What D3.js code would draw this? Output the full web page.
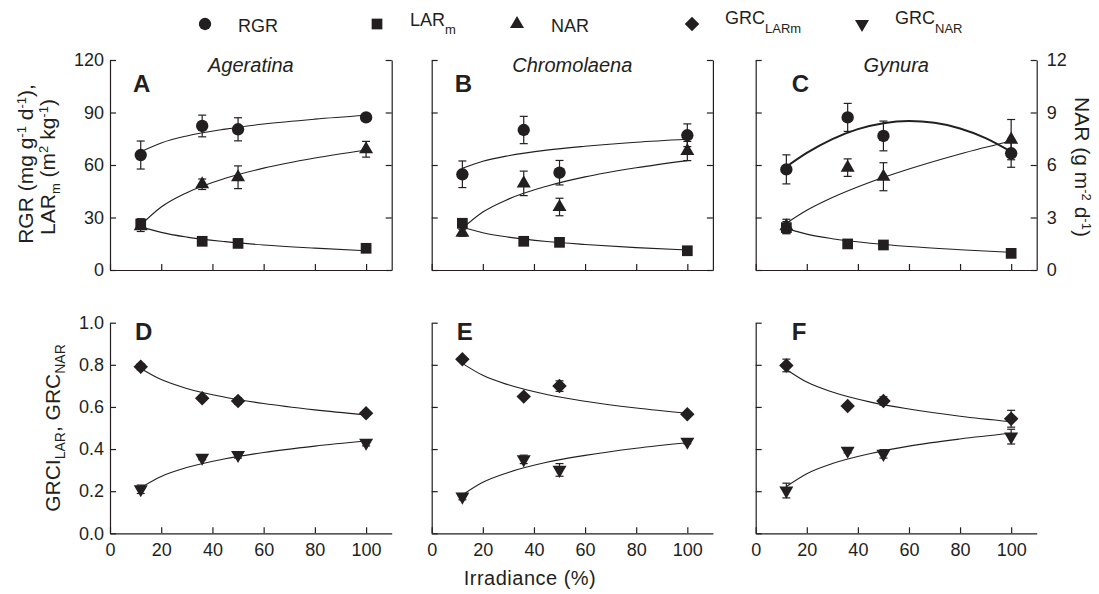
<!DOCTYPE html>
<html>
<head>
<meta charset="utf-8">
<script src="https://cdn.jsdelivr.net/npm/d3@7"></script>
<style>
body { margin: 0; background: #fff; }
text { font-family: "Liberation Sans", Arial, sans-serif; fill: #231f20; }
</style>
</head>
<body>
<svg id="fig" width="1099" height="594"></svg>
<script>
// irradiance levels (%) of the four treatments
var irr = [12, 36, 50, 100];
var xTicks = [0, 20, 40, 60, 80, 100];
var topTicks = [0, 30, 60, 90, 120];
var narTicks = [0, 3, 6, 9, 12];
var botTicks = [0, 0.2, 0.4, 0.6, 0.8, 1.0];
var species = ["Ageratina", "Chromolaena", "Gynura"];
var topLetters = ["A", "B", "C"];
var botLetters = ["D", "E", "F"];

// x positions where the fitted curves were read
var fitX = [12, 20, 30, 45, 60, 80, 100];
var fitXq = [12, 20, 30, 40, 50, 60, 70, 80, 90, 100];

// Ageratina
var rgrA = [65.7, 82.3, 80.4, 87.2], rgrAErr = [8.0, 6.2, 6.6, 2.0];
var larA = [26.3, 16.4, 15.2, 12.4], larAErr = [3.0, 1.2, 1.0, 1.0];
var narA = [2.5, 4.9, 5.3, 6.9], narAErr = [0.3, 0.3, 0.65, 0.45];
var rgrAFit = [67.6, 72.6, 76.6, 80.5, 83.4, 86.2, 88.4];
var larAFit = [24.8, 21.5, 18.8, 16.2, 14.3, 12.5, 11.0];
var narAFit = [2.57, 3.60, 4.42, 5.24, 5.82, 6.40, 6.86];

// Chromolaena
var rgrB = [54.7, 80.0, 55.6, 77.0], rgrBErr = [7.6, 7.8, 7.0, 6.5];
var larB = [26.7, 16.4, 15.8, 11.0], larBErr = [2.5, 1.0, 1.0, 1.0];
var narB = [2.13, 4.95, 3.6, 6.8], narBErr = [0.2, 0.7, 0.5, 0.55];
var rgrBFit = [58.1, 62.1, 65.3, 68.5, 70.7, 73.0, 74.7];
var larBFit = [24.4, 21.3, 18.8, 16.3, 14.6, 12.8, 11.4];
var narBFit = [2.38, 3.31, 4.05, 4.79, 5.32, 5.84, 6.25];

// Gynura
var rgrC = [57.5, 87.2, 76.6, 66.7], rgrCErr = [8.3, 8.0, 8.5, 8.0];
var larC = [24.2, 14.9, 14.3, 9.5], larCErr = [3.5, 1.0, 1.0, 1.0];
var narC = [2.5, 5.85, 5.33, 7.45], narCErr = [0.4, 0.5, 0.8, 1.15];
var rgrCFit = [59.0, 66.9, 74.8, 80.5, 83.9, 85.1, 84.1, 80.9, 75.4, 67.6];
var larCFit = [23.8, 20.5, 17.9, 15.3, 13.4, 11.6, 10.1];
var narCFit = [2.67, 3.41, 4.14, 5.03, 5.77, 6.63, 7.37];

// growth response coefficients
var grcLarD = [0.791, 0.641, 0.628, 0.570], grcLarDErr = [0.015, 0.01, 0.015, 0.01];
var grcNarD = [0.209, 0.359, 0.372, 0.430], grcNarDErr = [0.02, 0.01, 0.015, 0.015];
var grcLarDFit = [0.783, 0.730, 0.688, 0.646, 0.616, 0.586, 0.562];
var grcNarDFit = [0.217, 0.270, 0.312, 0.354, 0.384, 0.414, 0.438];

var grcLarE = [0.826, 0.649, 0.699, 0.565], grcLarEErr = [0.01, 0.01, 0.025, 0.01];
var grcNarE = [0.174, 0.351, 0.301, 0.435], grcNarEErr = [0.015, 0.02, 0.03, 0.01];
var grcLarEFit = [0.807, 0.750, 0.705, 0.659, 0.627, 0.595, 0.570];
var grcNarEFit = [0.182, 0.242, 0.289, 0.337, 0.370, 0.404, 0.430];

var grcLarF = [0.797, 0.604, 0.628, 0.544], grcLarFErr = [0.03, 0.01, 0.02, 0.04];
var grcNarF = [0.203, 0.392, 0.377, 0.459], grcNarFErr = [0.035, 0.01, 0.02, 0.035];
var grcLarFFit = [0.778, 0.718, 0.671, 0.623, 0.590, 0.556, 0.530];
var grcNarFFit = [0.222, 0.283, 0.331, 0.379, 0.414, 0.448, 0.475];

var ink = "#231f20";
var colX = [[110, 391.7], [431.7, 712.9], [755.7, 1036.7]];
var topY = [270, 60], botY = [533.3, 322.7];

var svg = d3.select("#fig");

var sym = {
	circle:  { type: d3.symbolCircle, size: 120, rot: 0 },
	square:  { type: d3.symbolSquare, size: 115, rot: 0 },
	tri:     { type: d3.symbolTriangle, size: 85, rot: 0 },
	diamond: { type: d3.symbolSquare, size: 105, rot: 45 },
	down:    { type: d3.symbolTriangle, size: 85, rot: 180 }
};

function marker(g, s, x, y) {
	g.append("path")
		.attr("d", d3.symbol().type(s.type).size(s.size)())
		.attr("transform", "translate(" + x + "," + y + ") rotate(" + s.rot + ")")
		.attr("fill", ink);
}

function series(g, x, y, vals, errs, fx, fit, s, lw) {
	var line = d3.line()
		.x(function(d, i) { return x(fx[i]); })
		.y(function(d) { return y(d); })
		.curve(d3.curveMonotoneX);
	g.append("path").datum(fit)
		.attr("d", line)
		.attr("fill", "none")
		.attr("stroke", ink)
		.attr("stroke-width", lw || 1.1);
	vals.forEach(function(v, i) {
		var px = x(irr[i]);
		var y0 = y(v - errs[i]), y1 = y(v + errs[i]);
		g.append("line").attr("x1", px).attr("x2", px).attr("y1", y0).attr("y2", y1)
			.attr("stroke", ink).attr("stroke-width", 1.2);
		[y0, y1].forEach(function(yy) {
			g.append("line").attr("x1", px - 4).attr("x2", px + 4).attr("y1", yy).attr("y2", yy)
				.attr("stroke", ink).attr("stroke-width", 1.2);
		});
	});
	vals.forEach(function(v, i) { marker(g, s, x(irr[i]), y(v)); });
}

function styleAxis(a) {
	a.attr("font-size", 18).attr("font-family", null);
	a.selectAll(".domain, .tick line").attr("stroke", ink).attr("stroke-width", 1.2);
}

var topData = [
	{ rgr: rgrA, rgrE: rgrAErr, rgrF: rgrAFit, lar: larA, larE: larAErr, larF: larAFit, nar: narA, narE: narAErr, narF: narAFit },
	{ rgr: rgrB, rgrE: rgrBErr, rgrF: rgrBFit, lar: larB, larE: larBErr, larF: larBFit, nar: narB, narE: narBErr, narF: narBFit },
	{ rgr: rgrC, rgrE: rgrCErr, rgrF: rgrCFit, lar: larC, larE: larCErr, larF: larCFit, nar: narC, narE: narCErr, narF: narCFit }
];
var botData = [
	{ lar: grcLarD, larE: grcLarDErr, larF: grcLarDFit, nar: grcNarD, narE: grcNarDErr, narF: grcNarDFit },
	{ lar: grcLarE, larE: grcLarEErr, larF: grcLarEFit, nar: grcNarE, narE: grcNarEErr, narF: grcNarEFit },
	{ lar: grcLarF, larE: grcLarFErr, larF: grcLarFFit, nar: grcNarF, narE: grcNarFErr, narF: grcNarFFit }
];

topData.forEach(function(d, i) {
	var g = svg.append("g");
	var x = d3.scaleLinear().domain([0, 110]).range(colX[i]);
	var y = d3.scaleLinear().domain([0, 120]).range(topY);
	var yN = d3.scaleLinear().domain([0, 12]).range(topY);

	g.append("g").attr("transform", "translate(0," + topY[0] + ")")
		.call(d3.axisBottom(x).tickValues(xTicks).tickSize(-6).tickSizeOuter(0).tickFormat(""))
		.call(styleAxis);
	g.append("g").attr("transform", "translate(" + colX[i][0] + ",0)")
		.call(d3.axisLeft(y).tickValues(topTicks).tickSize(-6).tickSizeOuter(0).tickPadding(6)
			.tickFormat(i == 0 ? d3.format("d") : ""))
		.call(styleAxis);
	g.append("g").attr("transform", "translate(" + colX[i][1] + ",0)")
		.call(d3.axisRight(yN).tickValues(narTicks).tickSize(-6).tickSizeOuter(0).tickPadding(10)
			.tickFormat(i == 2 ? d3.format("d") : ""))
		.call(styleAxis);

	series(g, x, y, d.lar, d.larE, fitX, d.larF, sym.square);
	series(g, x, yN, d.nar, d.narE, fitX, d.narF, sym.tri);
	series(g, x, y, d.rgr, d.rgrE, i == 2 ? fitXq : fitX, d.rgrF, sym.circle, i == 2 ? 2 : 1.1);

	g.append("text").attr("x", (colX[i][0] + colX[i][1]) / 2).attr("y", 72)
		.attr("text-anchor", "middle").attr("font-size", 20).attr("font-style", "italic")
		.text(species[i]);
	g.append("text").attr("x", colX[i][0] + (i == 2 ? 36 : 23)).attr("y", 92)
		.attr("font-size", 24).attr("font-weight", "bold").text(topLetters[i]);
});

botData.forEach(function(d, i) {
	var g = svg.append("g");
	var x = d3.scaleLinear().domain([0, 110]).range(colX[i]);
	var y = d3.scaleLinear().domain([0, 1]).range(botY);

	g.append("g").attr("transform", "translate(0," + botY[0] + ")")
		.call(d3.axisBottom(x).tickValues(xTicks).tickSize(-6).tickSizeOuter(0).tickPadding(10)
			.tickFormat(d3.format("d")))
		.call(styleAxis);
	g.append("g").attr("transform", "translate(" + colX[i][0] + ",0)")
		.call(d3.axisLeft(y).tickValues(botTicks).tickSize(-6).tickSizeOuter(0).tickPadding(6)
			.tickFormat(i == 0 ? d3.format(".1f") : ""))
		.call(styleAxis);

	series(g, x, y, d.lar, d.larE, fitX, d.larF, sym.diamond);
	series(g, x, y, d.nar, d.narE, fitX, d.narF, sym.down);

	g.append("text").attr("x", colX[i][0] + (i == 2 ? 36 : 25)).attr("y", 340)
		.attr("font-size", 24).attr("font-weight", "bold").text(botLetters[i]);
});

// axis titles
function sup(t, s, size, up) {
	t.append("tspan").attr("dy", -up).attr("font-size", size).text(s);
}
var yt = svg.append("text").attr("transform", "translate(33,164) rotate(-90)")
	.attr("text-anchor", "middle").attr("font-size", 21);
yt.append("tspan").text("RGR (mg g");
sup(yt, "-1", 13, 7);
yt.append("tspan").attr("dy", 7).text(" d");
sup(yt, "-1", 13, 7);
yt.append("tspan").attr("dy", 7).text("),");

var yt2 = svg.append("text").attr("transform", "translate(55,167) rotate(-90)")
	.attr("text-anchor", "middle").attr("font-size", 21);
yt2.append("tspan").text("LAR");
yt2.append("tspan").attr("dy", 5).attr("font-size", 13).text("m");
yt2.append("tspan").attr("dy", -5).text(" (m");
sup(yt2, "2", 13, 7);
yt2.append("tspan").attr("dy", 7).text(" kg");
sup(yt2, "-1", 13, 7);
yt2.append("tspan").attr("dy", 7).text(")");

var yr = svg.append("text").attr("transform", "translate(1075,167) rotate(90)")
	.attr("text-anchor", "middle").attr("font-size", 21);
yr.append("tspan").text("NAR (g m");
sup(yr, "-2", 13, 7);
yr.append("tspan").attr("dy", 7).text(" d");
sup(yr, "-1", 13, 7);
yr.append("tspan").attr("dy", 7).text(")");

var yb = svg.append("text").attr("transform", "translate(60,428) rotate(-90)")
	.attr("text-anchor", "middle").attr("font-size", 21);
yb.append("tspan").text("GRCI");
yb.append("tspan").attr("dy", 5).attr("font-size", 14).text("LAR");
yb.append("tspan").attr("dy", -5).text(", GRC");
yb.append("tspan").attr("dy", 5).attr("font-size", 14).text("NAR");

svg.append("text").attr("x", 530).attr("y", 585).attr("text-anchor", "middle")
	.attr("font-size", 20).attr("letter-spacing", "0.5px").text("Irradiance (%)");

// legend
var legend = svg.append("g");
var legSyms = [sym.circle, sym.square, sym.tri, sym.diamond, sym.down];
var legSymX = [205, 377, 517, 692, 862];
var legTextX = [238, 410, 551, 725, 895];
legSyms.forEach(function(s, i) { marker(legend, s, legSymX[i], 24); });

legend.append("text").attr("x", legTextX[0]).attr("y", 31.7).attr("font-size", 18).text("RGR");
var l1 = legend.append("text").attr("x", legTextX[1]).attr("y", 26).attr("font-size", 18);
l1.append("tspan").text("LAR");
l1.append("tspan").attr("dy", 8).attr("font-size", 13).text("m");
legend.append("text").attr("x", legTextX[2]).attr("y", 31.7).attr("font-size", 18).text("NAR");
var l3 = legend.append("text").attr("x", legTextX[3]).attr("y", 24).attr("font-size", 18);
l3.append("tspan").text("GRC");
l3.append("tspan").attr("dy", 9).attr("font-size", 13).text("LARm");
var l4 = legend.append("text").attr("x", legTextX[4]).attr("y", 24).attr("font-size", 18);
l4.append("tspan").text("GRC");
l4.append("tspan").attr("dy", 9).attr("font-size", 13).text("NAR");
</script>
</body>
</html>
